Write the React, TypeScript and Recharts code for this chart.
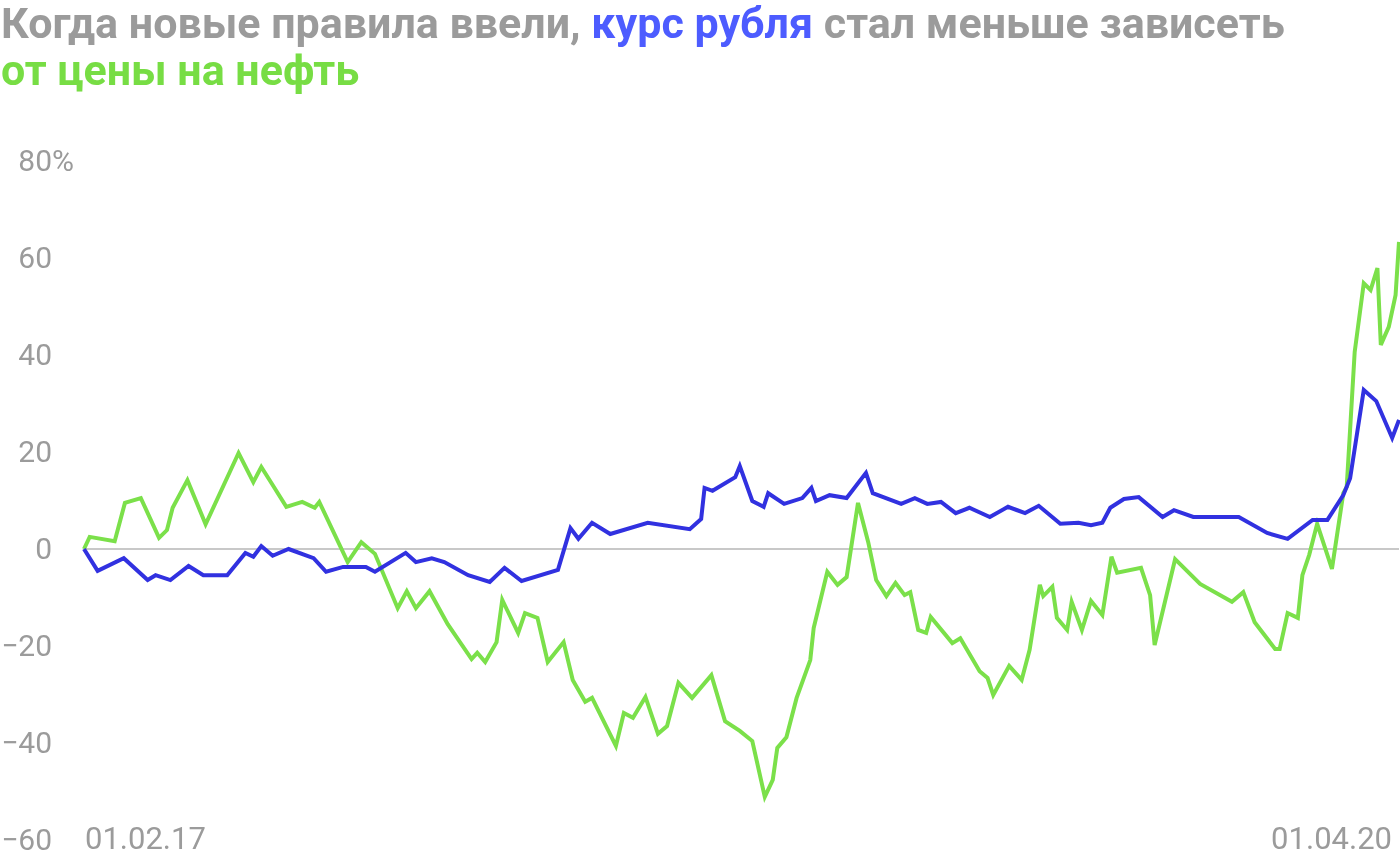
import { LineChart, Line, XAxis, YAxis, ReferenceLine } from 'recharts';

// days since 01.02.17, percent change
const oilPoints: [number, number][] = [
  [0, 0], [5, 2.5], [27, 1.6], [36, 9.5], [50, 10.5], [66, 2.3], [73, 3.9], [78, 8.5],
  [91, 14.2], [107, 5.1], [136, 19.8], [149, 13.8], [156, 16.9], [166, 13.2], [178, 8.7],
  [192, 9.7], [203, 8.5], [207, 9.7], [232, -2.7], [244, 1.4], [256, -1.0], [276, -12.2],
  [284, -8.7], [292, -12.2], [304, -8.7], [320, -15.5], [341, -22.7], [346, -21.4],
  [353, -23.3], [363, -19.2], [368, -10.5], [382, -17.3], [388, -13.2], [399, -14.2],
  [408, -23.3], [422, -19.2], [430, -27.0], [441, -31.5], [447, -30.7], [468, -40.6],
  [475, -33.8], [483, -34.8], [494, -30.5], [505, -38.1], [513, -36.5], [523, -27.6],
  [535, -30.7], [552, -26.0], [564, -35.5], [577, -37.5], [588, -39.6], [599, -51.1],
  [606, -47.6], [610, -41.0], [618, -38.8], [627, -30.7], [639, -22.9], [642, -16.3],
  [654, -4.7], [663, -7.4], [671, -5.8], [681, 9.5], [690, 1.4], [697, -6.4], [706, -9.7],
  [714, -7.0], [722, -9.5], [727, -8.9], [734, -16.7], [741, -17.3], [745, -14.0],
  [764, -19.4], [771, -18.4], [788, -25.2], [795, -26.6], [800, -30.1], [814, -24.1],
  [825, -27.0], [832, -20.8], [841, -7.4], [844, -9.7], [852, -7.8], [856, -14.2],
  [865, -16.7], [869, -10.9], [878, -16.7], [886, -10.7], [896, -13.6], [904, -1.6],
  [909, -4.9], [930, -3.9], [938, -9.5], [942, -19.8], [960, -2.1], [982, -7.2],
  [1010, -10.9], [1020, -8.9], [1030, -15.1], [1048, -20.6], [1052, -20.6], [1059, -13.2],
  [1068, -14.2], [1072, -5.4], [1078, -1.2], [1085, 5.2], [1098, -4.1], [1108, 11.5],
  [1111, 12.8], [1118, 40.6], [1126, 54.8], [1132, 53.4], [1138, 57.9], [1141, 42.1],
  [1148, 45.8], [1154, 52.4], [1157, 63.3],
];

const rublePoints: [number, number][] = [
  [0, 0], [12, -4.5], [35, -1.9], [56, -6.4], [63, -5.4], [76, -6.4], [92, -3.5],
  [105, -5.4], [126, -5.4], [142, -0.8], [149, -1.6], [156, 0.6], [166, -1.4], [180, 0],
  [202, -1.9], [213, -4.7], [228, -3.7], [248, -3.7], [256, -4.7], [283, -0.8], [292, -2.7],
  [306, -1.9], [317, -2.7], [338, -5.4], [357, -6.8], [370, -3.9], [385, -6.6], [417, -4.3],
  [428, 4.3], [435, 2.1], [447, 5.4], [463, 3.1], [496, 5.4], [533, 4.1], [543, 6.2],
  [546, 12.6], [553, 12.0], [573, 14.8], [577, 17.1], [588, 9.9], [598, 8.7], [602, 11.5],
  [616, 9.3], [632, 10.5], [640, 12.6], [644, 9.9], [656, 11.1], [671, 10.5], [688, 15.7],
  [694, 11.5], [719, 9.3], [731, 10.5], [742, 9.3], [754, 9.7], [767, 7.4], [779, 8.5],
  [797, 6.6], [813, 8.7], [828, 7.4], [840, 8.9], [859, 5.2], [875, 5.4], [886, 4.9],
  [896, 5.4], [903, 8.5], [915, 10.3], [928, 10.7], [949, 6.6], [959, 8.0], [976, 6.6],
  [1016, 6.6], [1041, 3.3], [1059, 2.1], [1081, 6.0], [1094, 6.0], [1108, 11.1],
  [1114, 14.6], [1126, 32.8], [1137, 30.5], [1151, 22.9], [1157, 26.6],
];

const yTicks = [-60, -40, -20, 0, 20, 40, 60, 80];
const xTicks = [0, 1157];
const xTickLabels = ['01.02.17', '01.04.20'];

const oilData = oilPoints.map(([day, value]) => ({ day, value }));
const rubleData = rublePoints.map(([day, value]) => ({ day, value }));

const GRAY = '#9b9b9b';
const FONT = 'Roboto, "Noto Sans", sans-serif';

function YTick(props: any) {
  const { y, payload } = props;
  const v = payload.value as number;
  const label = v < 0 ? '\u2212' + Math.abs(v) : String(v);
  return (
    <g>
      <text x={52} y={y + 10} textAnchor="end" fill={GRAY} fontSize={30} fontFamily={FONT}>
        {label}
      </text>
      {v === 80 && (
        <text x={52} y={y + 10} textAnchor="start" fill={GRAY} fontSize={30} fontFamily={FONT}>
          %
        </text>
      )}
    </g>
  );
}

function XTick(props: any) {
  const { x, y, index } = props;
  return (
    <text
      x={index === 0 ? x + 1 : x - 7}
      y={y + 9}
      textAnchor={index === 0 ? 'start' : 'end'}
      fill={GRAY}
      fontSize={31}
      fontFamily={FONT}
    >
      {xTickLabels[index]}
    </text>
  );
}

export default function App() {
  return (
    <div style={{ position: 'fixed', left: 0, top: 0, width: 1400, height: 860, background: '#fff' }}>
      <div
        style={{
          position: 'absolute',
          left: 1,
          top: 0,
          fontFamily: FONT,
          fontWeight: 700,
          fontSize: 43,
          lineHeight: '47px',
          color: GRAY,
          width: 1400,
          whiteSpace: 'nowrap',
        }}
      >
        Когда новые правила ввели, <span style={{ color: '#4d5cff' }}>курс рубля</span> стал меньше зависеть
        <br />
        <span style={{ color: '#77dd44' }}>от цены на нефть</span>
      </div>
      <div style={{ position: 'absolute', left: 0, top: 0 }}>
        <LineChart width={1400} height={860} margin={{ top: 161, right: 1, bottom: 0, left: 0 }}>
          <XAxis
            type="number"
            dataKey="day"
            domain={[0, 1157]}
            ticks={xTicks}
            height={20}
            axisLine={false}
            tickLine={false}
            tickSize={0}
            tickMargin={0}
            tick={<XTick />}
            interval={0}
          />
          <YAxis
            type="number"
            domain={[-60, 80]}
            ticks={yTicks}
            width={84}
            axisLine={false}
            tickLine={false}
            tick={<YTick />}
            interval={0}
          />
          <ReferenceLine y={0} stroke="#c8c8c8" strokeWidth={2} />
          <Line
            data={oilData}
            dataKey="value"
            type="linear"
            stroke="#7be04a"
            strokeWidth={4}
            dot={false}
            isAnimationActive={false}
          />
          <Line
            data={rubleData}
            dataKey="value"
            type="linear"
            stroke="#3131e0"
            strokeWidth={4}
            dot={false}
            isAnimationActive={false}
          />
        </LineChart>
      </div>
    </div>
  );
}
